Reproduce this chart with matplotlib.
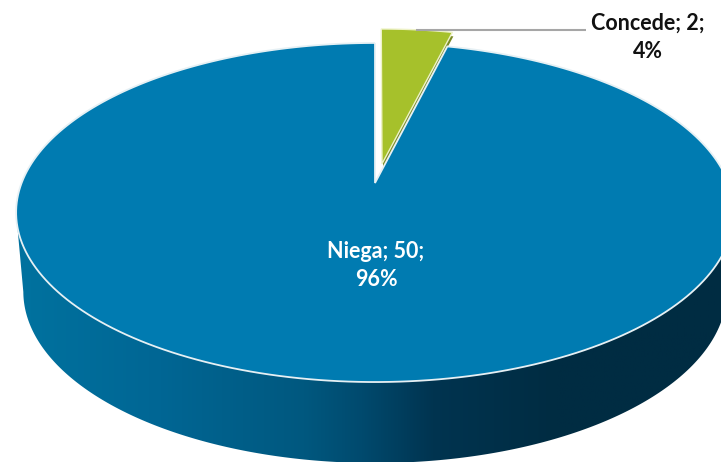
import numpy as np
import matplotlib
matplotlib.use('Agg')
import matplotlib.pyplot as plt
from matplotlib.colors import LinearSegmentedColormap
from matplotlib.patches import Polygon, Wedge
from matplotlib.path import Path
from matplotlib.transforms import Affine2D, Transform

categories = ['Concede', 'Niega']
values = [2, 50]
percents = [4, 96]
explode = [0.12, 0]
colors = ['#a6c12b', '#007bb1']

plt.rcParams['font.family'] = ['Lato', 'DejaVu Sans']


# the chart is a tilted disc, so the unit circle of the pie goes through a perspective map
def tilt(xy):
    k = 0.174
    d = 1 + k * xy[:, 1]
    return np.column_stack((375 + 353.4 * xy[:, 0] / d, 183 - 164.4 * xy[:, 1] / d))


class Tilt(Transform):
    input_dims = 2
    output_dims = 2
    has_inverse = False

    def transform_non_affine(self, values):
        return tilt(np.asarray(values))

    def transform_path_non_affine(self, path):
        fine = Affine2D().scale(2000).transform_path(path)
        polys = fine.to_polygons(closed_only=False)
        return Path(tilt(np.vstack(polys) / 2000))


fig = plt.figure(figsize=(7.21, 4.62), dpi=100)
ax = fig.add_axes([0, 0, 1, 1])

wedges, _ = ax.pie(values, explode=explode, colors=colors, startangle=90, counterclock=False)
ax.set_aspect('auto')
ax.set_xlim(0, 721)
ax.set_ylim(462, 0)
ax.axis('off')

# side wall with its horizontal shading, from widest point to widest point
t = np.linspace(np.pi + 0.177, 2 * np.pi - 0.177, 300)
rim = tilt(np.column_stack((np.cos(t), np.sin(t))))
low = np.column_stack((376 + (rim[:, 0] - 376) * 0.98, 292 + (rim[:, 1] - 213) * 172 / 170))
wall = Polygon(np.vstack((rim, low[::-1])), closed=True, fc='none', ec='none')
ax.add_patch(wall)
cmap = LinearSegmentedColormap.from_list('wall', [
    (0, '#00729f'), (0.2, '#006694'), (0.4, '#00587f'), (0.48, '#004a6e'),
    (0.58, '#003450'), (0.75, '#002c42'), (1, '#002c42')])
grad = ax.imshow(np.linspace(0, 1, 256).reshape(1, -1), cmap=cmap, aspect='auto',
                 extent=[17, 735, 470, 200], zorder=1)
grad.set_clip_path(wall)
ax.set_xlim(0, 721)
ax.set_ylim(462, 0)

tr = Tilt() + ax.transData
# pulled out slice sits a little further right than the explode gives
nudge = Affine2D().translate(2, 0)

# thin side of the pulled out slice
w = wedges[0]
side = Wedge(w.center, w.r, w.theta1, w.theta2, fc='#7a8a25', ec='none', zorder=2,
             transform=Tilt() + Affine2D().translate(3, 4) + ax.transData)
ax.add_patch(side)

wedges[0].set_transform(Tilt() + nudge + ax.transData)
wedges[0].set(edgecolor='#eef2c8', linewidth=1.0, zorder=3)
wedges[1].set_transform(tr)
wedges[1].set(edgecolor='#e6f0f4', linewidth=1.3, zorder=3)

ax.plot([416, 586], [29.5, 29.5], color='#a6a6a6', lw=1.5, zorder=4, solid_capstyle='butt')

ax.text(648, 37.5, f'{categories[0]}; {values[0]};\n{percents[0]}%', ha='center', va='center',
        fontsize=15.5, fontweight='bold', color='#111111', linespacing=1.45, zorder=5)
ax.text(376, 265.5, f'{categories[1]}; {values[1]};\n{percents[1]}%', ha='center', va='center',
        fontsize=15.5, fontweight='bold', color='white', linespacing=1.45, zorder=5)

fig.savefig('out.png', dpi=100)
